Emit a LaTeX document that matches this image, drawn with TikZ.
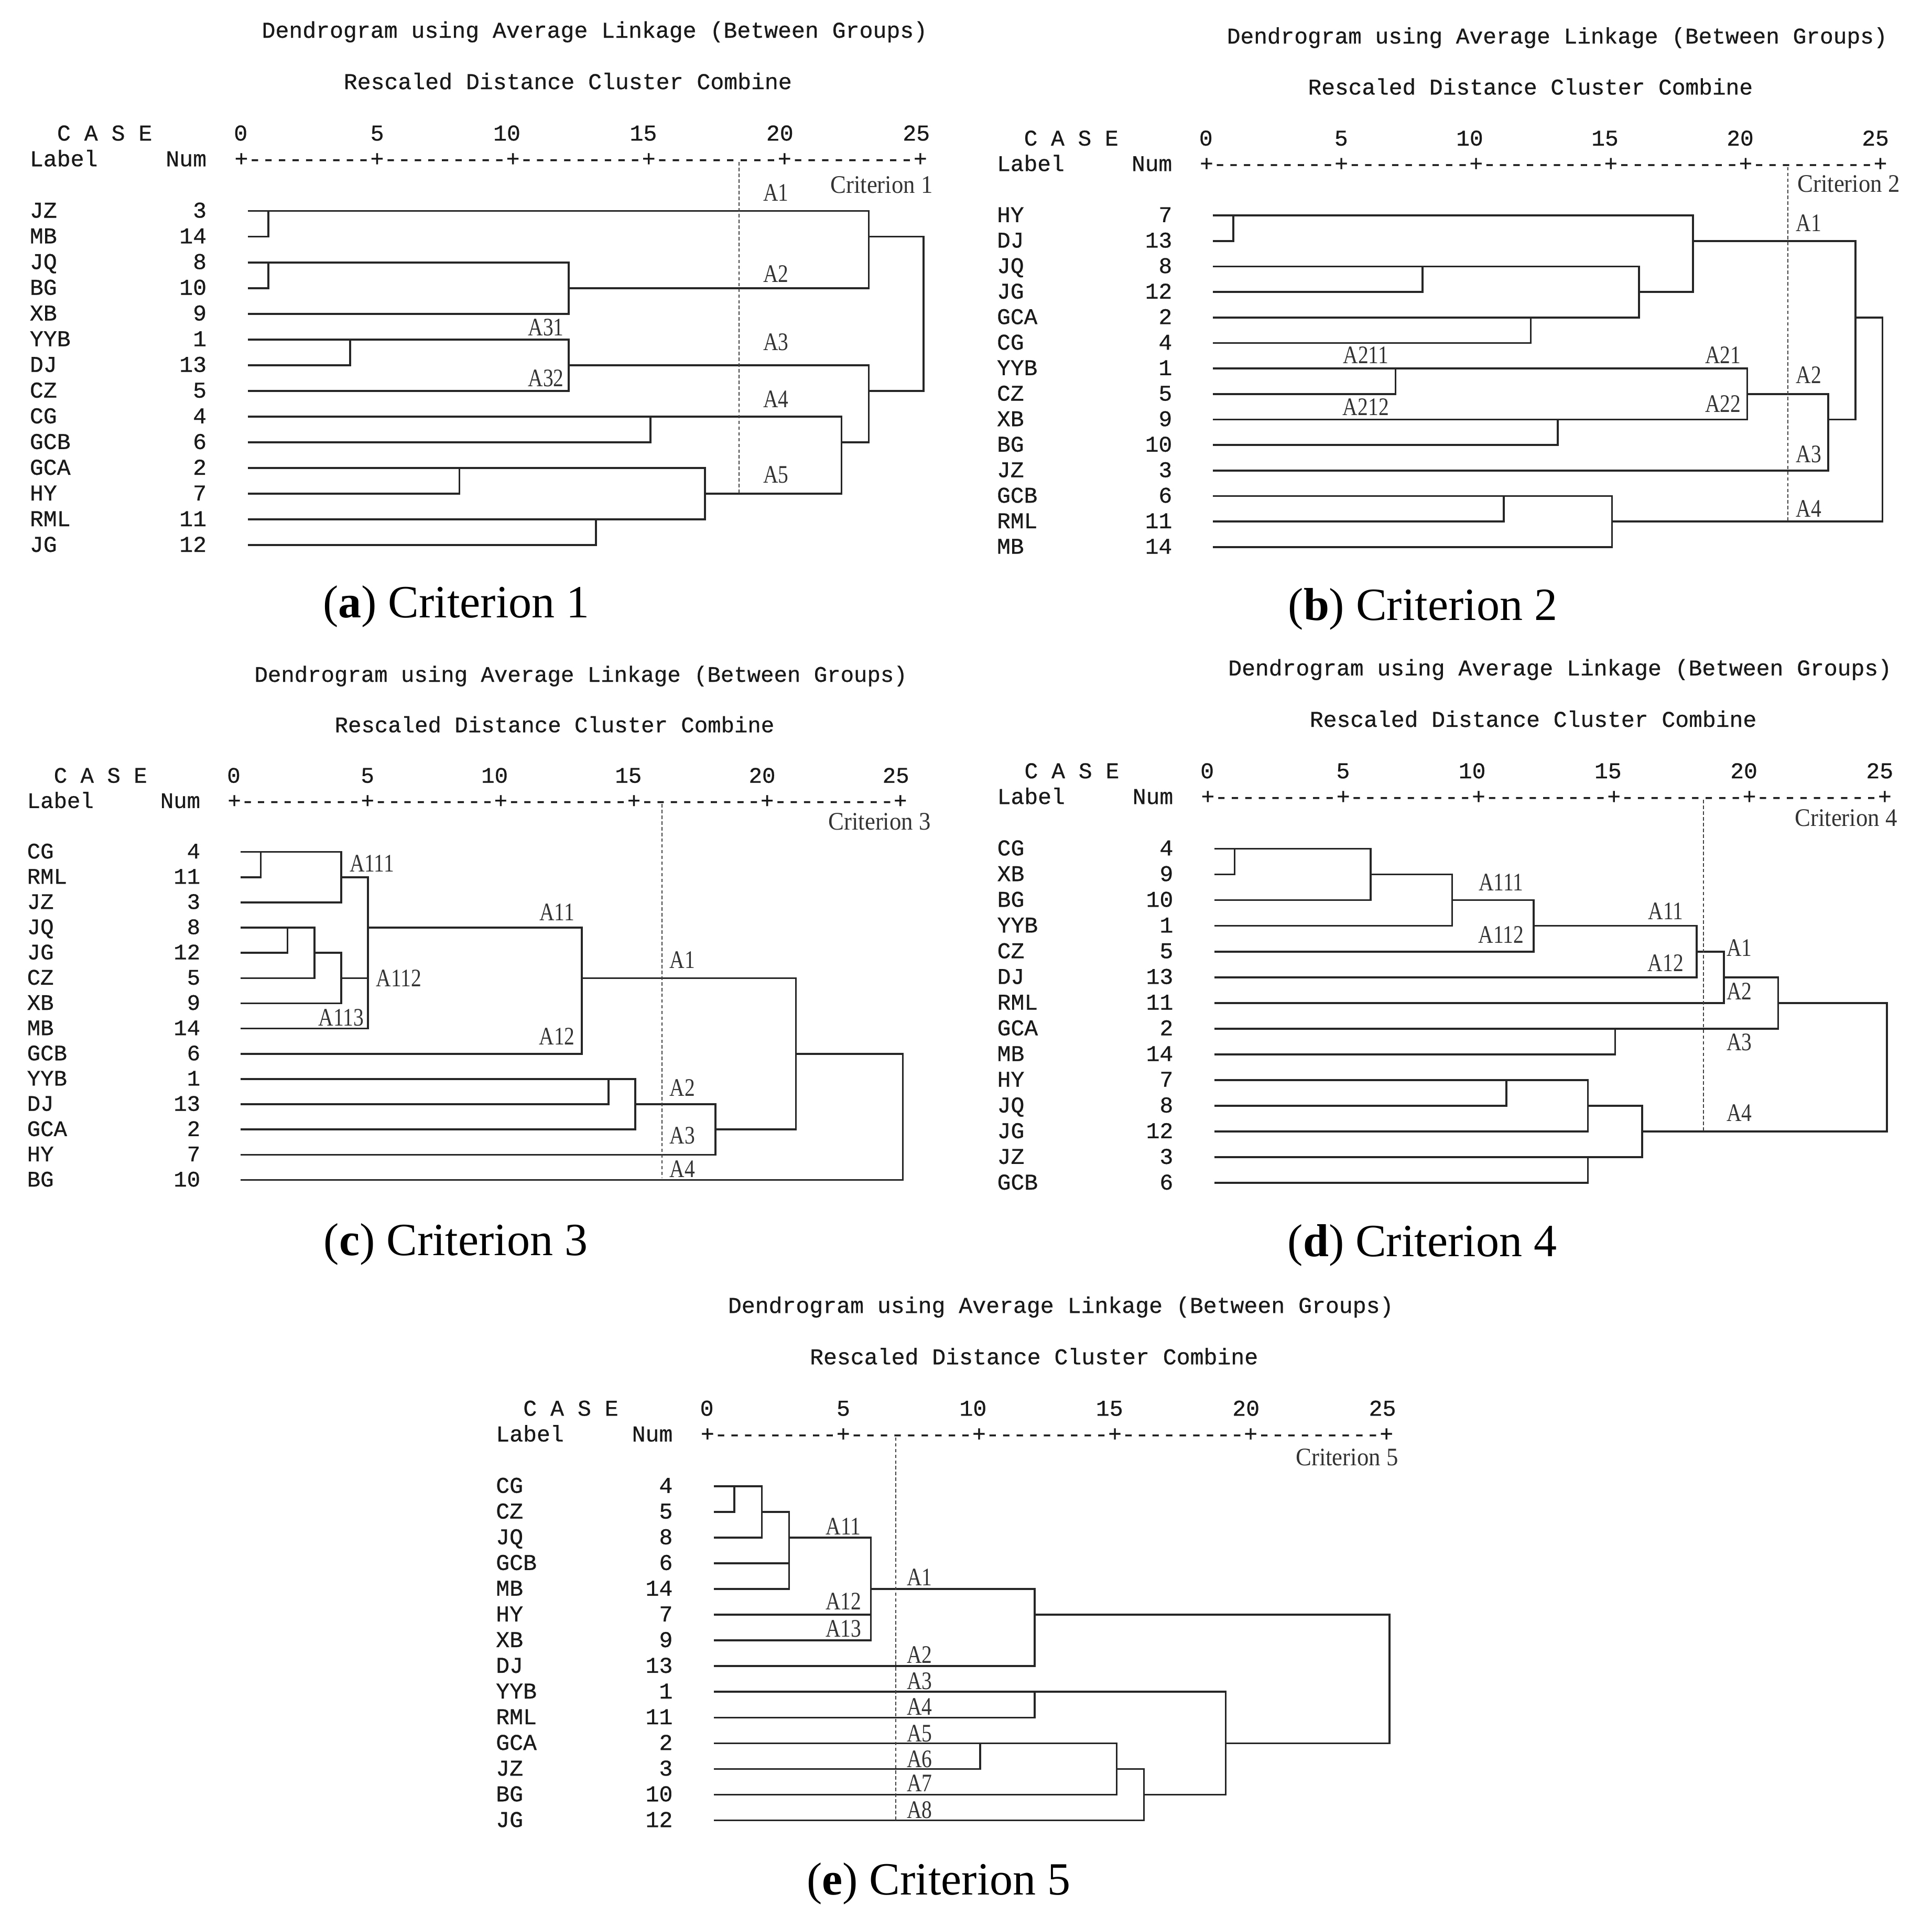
\documentclass[tikz,border=0pt]{standalone}
\usepackage{graphicx}
\usepackage{fontspec}
\setmainfont{Liberation Serif}
\newfontfamily\spssfont[FakeBold=0.6]{Liberation Mono}
\usepackage{tikz}

% axis line of the text output, dashes kept apart so no ligature forms
\newcommand{\dd}{-\kern0pt}
\newcommand{\seg}{\dd\dd\dd\dd\dd\dd\dd\dd\dd+}
\newcommand{\axisline}{+\seg\seg\seg\seg\seg}
\newcommand{\alab}[1]{\scalebox{0.82}[1]{#1}}
\newcommand{\crit}[1]{\scalebox{0.93}[1]{Criterion #1}}
\newcommand{\mfs}{13}

\tikzset{
  tree/.style={line width=1.1pt, black!85},
  cut/.style={line width=0.6pt, black!75, dash pattern=on 2pt off 1.3pt},
  spss/.style={font=\spssfont\fontsize{\mfs}{15}\selectfont, inner sep=0pt, text=black!90},
  clus/.style={font=\fontsize{14.5}{16}\selectfont, inner sep=0pt, text=black!80},
  capt/.style={font=\fontsize{26.5}{30}\selectfont, inner sep=0pt}
}

% header lines of one dendrogram
\newcommand{\spsshead}[1]{%
  \node[spss, anchor=base west] (#1-title) at (0.75,-5.74) {Dendrogram using Average Linkage (Between Groups)};
  \node[spss, anchor=base west] (#1-sub) at (3.75,-3.74) {Rescaled Distance Cluster Combine};
  \node[spss, anchor=base west] (#1-case) at (-6.75,-1.74) {C A S E};
  \foreach \v in {0,5,...,25}
    \node[spss, anchor=base east] (#1-n\v) at (\v+0.25,-1.74) {\v};
  \node[spss, anchor=base west] (#1-label) at (-7.75,-0.74) {Label};
  \node[spss, anchor=base east] (#1-num) at (-1.25,-0.74) {Num};
  \node[spss, anchor=base west] (#1-axis) at (-0.25,-0.74) {\axisline};
}
% case labels and numbers
\newcommand{\leaves}[2]{%
  \foreach \lab/\num [count=\i] in {#2} {
    \node[spss, anchor=base west] (#1-\lab) at (-7.75,\i+0.26) {\lab};
    \node[spss, anchor=base east] (#1-\lab-n) at (-1.25,\i+0.26) {\num};
  }
}

\begin{document}
\begin{tikzpicture}[x=1mm, y=-1mm]
\path[use as bounding box, fill=white] (0,0) rectangle (390,389.05);

% (a) Criterion 1
\begin{scope}[shift={(48.65,37.41)}, x=5.51mm, y=-5.19mm]
  \def\mfs{13}
  \spsshead{a}
  \leaves{a}{JZ/3,MB/14,JQ/8,BG/10,XB/9,YYB/1,DJ/13,CZ/5,CG/4,GCB/6,GCA/2,HY/7,RML/11,JG/12}
  \foreach \xa/\ra/\xb/\rb/\xm in {0.25/1/0.25/2/1, 0.25/3/0.25/4/1, 1/3/0.25/5/12, 1/1/12/4/23,
      0.25/6/0.25/7/4, 4/6/0.25/8/12, 0.25/9/0.25/10/15, 0.25/11/0.25/12/8, 0.25/13/0.25/14/13,
      8/11/13/13/17, 15/9/17/12/22, 12/7/22/10/23, 23/2/23/8/25}
    \draw[tree] (\xa,\ra) -- (\xm,\ra) -- (\xm,\rb) -- (\xb,\rb);
  \draw[cut] (18.25,-0.9) -- (18.25,12);
  \foreach \nm/\x/\y in {A1/19.6/0.28, A2/19.6/3.44, A3/19.6/6.11, A4/19.6/8.31, A5/19.6/11.26,
      A31/11.17/5.53, A32/11.17/7.51}
    \node[clus] (a-\nm) at (\x,\y) {\alab{\nm}};
  \node[clus] (a-crit) at (23.47,-0.01) {\crit{1}};
\end{scope}

% (b) Criterion 2
\begin{scope}[shift={(243.5,38.35)}, x=5.46mm, y=-5.15mm]
  \def\mfs{12.9}
  \spsshead{b}
  \leaves{b}{HY/7,DJ/13,JQ/8,JG/12,GCA/2,CG/4,YYB/1,CZ/5,XB/9,BG/10,JZ/3,GCB/6,RML/11,MB/14}
  \foreach \xa/\ra/\xb/\rb/\xm in {0.25/1/0.25/2/1, 0.25/3/0.25/4/8, 0.25/5/0.25/6/12, 8/3/12/5/16,
      1/1/16/4/18, 0.25/7/0.25/8/7, 0.25/9/0.25/10/13, 7/7/13/9/20, 20/8/0.25/11/23,
      18/2/23/9/24, 0.25/12/0.25/13/11, 11/12/0.25/14/15, 24/5/15/13/25}
    \draw[tree] (\xa,\ra) -- (\xm,\ra) -- (\xm,\rb) -- (\xb,\rb);
  \draw[cut] (21.5,-0.9) -- (21.5,13);
  \foreach \nm/\x/\y in {A1/22.27/1.29, A2/22.27/7.26, A3/22.27/10.37, A4/22.27/12.5,
      A211/5.9/6.48, A21/19.1/6.48, A212/5.9/8.5, A22/19.1/8.39}
    \node[clus] (b-\nm) at (\x,\y) {\alab{\nm}};
  \node[clus] (b-crit) at (23.75,-0.24) {\crit{2}};
\end{scope}

% (c) Criterion 3
\begin{scope}[shift={(47.25,166.9)}, x=5.4mm, y=-5.095mm]
  \def\mfs{12.75}
  \spsshead{c}
  \leaves{c}{CG/4,RML/11,JZ/3,JQ/8,JG/12,CZ/5,XB/9,MB/14,GCB/6,YYB/1,DJ/13,GCA/2,HY/7,BG/10}
  \foreach \xa/\ra/\xb/\rb/\xm in {0.25/1/0.25/2/1, 1/1/0.25/3/4, 0.25/4/0.25/5/2, 2/4/0.25/6/3,
      3/5/0.25/7/4, 4/2/0.25/8/5, 5/4/0.25/9/13, 0.25/10/0.25/11/14, 14/10/0.25/12/15,
      15/11/0.25/13/18, 13/6/18/12/21, 21/9/0.25/14/25}
    \draw[tree] (\xa,\ra) -- (\xm,\ra) -- (\xm,\rb) -- (\xb,\rb);
  \draw[tree] (4,6) -- (5,6);
  \draw[cut] (16,-0.9) -- (16,13.9);
  \foreach \nm/\x/\y in {A111/5.15/1.46, A11/12.07/3.39, A112/6.16/6.01, A113/4.0/7.57,
      A12/12.07/8.3, A1/16.76/5.27, A2/16.76/10.35, A3/16.76/12.23, A4/16.76/13.57}
    \node[clus] (c-\nm) at (\x,\y) {\alab{\nm}};
  \node[clus] (c-crit) at (24.13,-0.2) {\crit{3}};
\end{scope}

% (d) Criterion 4
\begin{scope}[shift={(243.75,166.16)}, x=5.485mm, y=-5.19mm]
  \def\mfs{12.96}
  \spsshead{d}
  \leaves{d}{CG/4,XB/9,BG/10,YYB/1,CZ/5,DJ/13,RML/11,GCA/2,MB/14,HY/7,JQ/8,JG/12,JZ/3,GCB/6}
  \foreach \xa/\ra/\xb/\rb/\xm in {0.25/1/0.25/2/1, 1/1/0.25/3/6, 6/2/0.25/4/9, 9/3/0.25/5/12,
      12/4/0.25/6/18, 18/5/0.25/7/19, 0.25/8/0.25/9/15, 19/6/15/8/21, 0.25/10/0.25/11/11,
      11/10/0.25/12/14, 0.25/13/0.25/14/14, 14/11/14/13/16, 21/7/16/12/25}
    \draw[tree] (\xa,\ra) -- (\xm,\ra) -- (\xm,\rb) -- (\xb,\rb);
  \draw[cut] (18.25,-0.9) -- (18.25,12);
  \foreach \nm/\x/\y in {A111/10.8/2.3, A112/10.8/4.35, A11/16.86/3.43, A12/16.86/5.44,
      A1/19.57/4.86, A2/19.57/6.55, A3/19.57/8.53, A4/19.57/11.27}
    \node[clus] (d-\nm) at (\x,\y) {\alab{\nm}};
  \node[clus] (d-crit) at (23.5,-0.2) {\crit{4}};
\end{scope}

% (e) Criterion 5
\begin{scope}[shift={(142.75,294.86)}, x=5.51mm, y=-5.19mm]
  \def\mfs{13}
  \spsshead{e}
  \leaves{e}{CG/4,CZ/5,JQ/8,GCB/6,MB/14,HY/7,XB/9,DJ/13,YYB/1,RML/11,GCA/2,JZ/3,BG/10,JG/12}
  \foreach \xa/\ra/\xb/\rb/\xm in {0.25/1/0.25/2/1, 1/1/0.25/3/2, 2/2/0.25/5/3, 3/3/0.25/7/6,
      6/5/0.25/8/12, 0.25/9/0.25/10/12, 0.25/11/0.25/12/10, 10/11/0.25/13/15,
      15/12/0.25/14/16, 12/9/16/13/19, 12/6/19/11/25}
    \draw[tree] (\xa,\ra) -- (\xm,\ra) -- (\xm,\rb) -- (\xb,\rb);
  \draw[tree] (0.25,4) -- (3,4);
  \draw[tree] (0.25,6) -- (6,6);
  \draw[cut] (6.9,-0.9) -- (6.9,14);
  \foreach \nm/\x/\y in {A11/4.99/2.56, A12/4.99/5.47, A13/4.99/6.55, A1/7.78/4.54,
      A2/7.78/7.56, A3/7.78/8.58, A4/7.78/9.58, A5/7.78/10.63, A6/7.78/11.62,
      A7/7.78/12.56, A8/7.78/13.6}
    \node[clus] (e-\nm) at (\x,\y) {\alab{\nm}};
  \node[clus] (e-crit) at (23.44,-0.13) {\crit{5}};
\end{scope}

% captions
\node[capt] (cap-a) at (92.1,122.5) {(\textbf{a}) Criterion 1};
\node[capt] (cap-b) at (287.2,123) {(\textbf{b}) Criterion 2};
\node[capt] (cap-c) at (92,251.25) {(\textbf{c}) Criterion 3};
\node[capt] (cap-d) at (287.1,251.4) {(\textbf{d}) Criterion 4};
\node[capt] (cap-e) at (189.5,380.3) {(\textbf{e}) Criterion 5};
\end{tikzpicture}
\end{document}
